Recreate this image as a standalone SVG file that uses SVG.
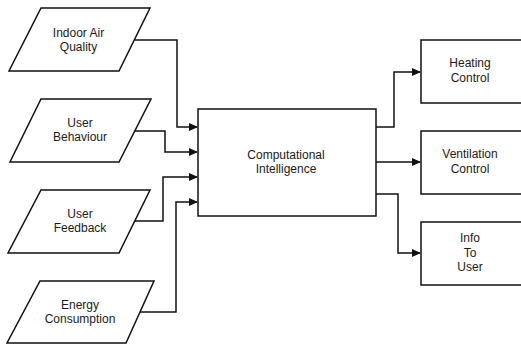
<svg xmlns="http://www.w3.org/2000/svg" width="521" height="345" viewBox="0 0 521 345">
<style>
.shape{fill:#fff;stroke:#111;stroke-width:1.5}
.conn{fill:none;stroke:#111;stroke-width:1.5}
.lbl{font-family:"Liberation Sans",Arial,sans-serif;font-size:12px;fill:#1a1a1a;text-anchor:middle}
</style>
<defs>
<marker id="arr" markerWidth="9" markerHeight="8" refX="8" refY="4" orient="auto" markerUnits="userSpaceOnUse">
<path d="M0,0 L9,4 L0,8 Z" fill="#111"/>
</marker>
</defs>
<rect width="521" height="345" fill="#fff"/>
<g id="connectors">
<path class="conn" marker-end="url(#arr)" d="M135,40 H177 V127 H197"/>
<path class="conn" marker-end="url(#arr)" d="M135,131 H165 V152 H197"/>
<path class="conn" marker-end="url(#arr)" d="M135,221 H163 V177 H197"/>
<path class="conn" marker-end="url(#arr)" d="M140,312 H176 V202 H197"/>
<path class="conn" marker-end="url(#arr)" d="M376,127 H394 V72 H420"/>
<path class="conn" marker-end="url(#arr)" d="M376,162 H420"/>
<path class="conn" marker-end="url(#arr)" d="M376,194 H398 V253 H420"/>
</g>
<g id="indoor-air-quality">
<polygon class="shape" points="41,8 150,8 119,71 9,71"/>
<text class="lbl" x="78.5" y="37">Indoor Air</text>
<text class="lbl" x="78.5" y="51">Quality</text>
</g>
<g id="user-behaviour">
<polygon class="shape" points="41,99 151,99 119,162 10,162"/>
<text class="lbl" x="80" y="127">User</text>
<text class="lbl" x="80" y="141">Behaviour</text>
</g>
<g id="user-feedback">
<polygon class="shape" points="41,190 150,190 119,253 8,253"/>
<text class="lbl" x="80" y="218">User</text>
<text class="lbl" x="80" y="232">Feedback</text>
</g>
<g id="energy-consumption">
<polygon class="shape" points="40,281 154,281 126,343 7,343"/>
<text class="lbl" x="80" y="309">Energy</text>
<text class="lbl" x="80" y="323">Consumption</text>
</g>
<g id="computational-intelligence">
<rect class="shape" x="198" y="109" width="178" height="107"/>
<text class="lbl" x="286" y="159">Computational</text>
<text class="lbl" x="286" y="173">Intelligence</text>
</g>
<g id="heating-control">
<rect class="shape" x="421" y="40" width="105" height="63"/>
<text class="lbl" x="470" y="67">Heating</text>
<text class="lbl" x="470" y="82">Control</text>
</g>
<g id="ventilation-control">
<rect class="shape" x="421" y="131" width="105" height="63"/>
<text class="lbl" x="470" y="158">Ventilation</text>
<text class="lbl" x="470" y="173">Control</text>
</g>
<g id="info-to-user">
<rect class="shape" x="421" y="222" width="105" height="63"/>
<text class="lbl" x="470" y="242">Info</text>
<text class="lbl" x="470" y="257">To</text>
<text class="lbl" x="470" y="271">User</text>
</g>
</svg>
